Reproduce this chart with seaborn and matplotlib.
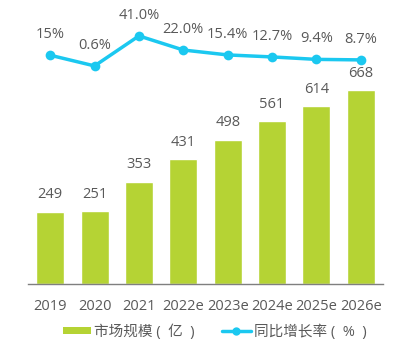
import matplotlib
matplotlib.use("Agg")
import matplotlib.pyplot as plt
import seaborn as sns
import pandas as pd
from matplotlib.lines import Line2D
from matplotlib.patches import Patch

categories = ["2019", "2020", "2021", "2022e", "2023e", "2024e", "2025e", "2026e"]
market_size = [249, 251, 353, 431, 498, 561, 614, 668]
growth_rate = [15.0, 0.6, 41.0, 22.0, 15.4, 12.7, 9.4, 8.7]
growth_labels = ["15%", "0.6%", "41.0%", "22.0%", "15.4%", "12.7%", "9.4%", "8.7%"]

sns.set_theme(style="white")
plt.rcParams['font.family'] = ['Open Sans', 'Noto Sans CJK SC', 'DejaVu Sans']

bar_color = "#B5D334"
line_color = "#1BC8F0"
text_color = "#595959"

df = pd.DataFrame({"year": categories, "size": market_size, "rate": growth_rate})

W, H = 403, 350
fig = plt.figure(figsize=(W / 100, H / 100), dpi=100)
ax_left, ax_right = 28 / W, 383 / W
ax_bottom = (H - 284) / H
ax_top = (H - 20) / H
ax = fig.add_axes([ax_left, ax_bottom, ax_right - ax_left, ax_top - ax_bottom])

sns.barplot(data=df, x="year", y="size", color=bar_color, width=0.63, ax=ax,
            saturation=1)
ax.set_ylim(0, 910)
ax.set_xlim(-0.5, 7.5)
for i, v in enumerate(market_size):
    ax.text(i, v + 58, str(v), ha="center", va="center", fontsize=10.5, color=text_color)

ax2 = ax.twinx()
sns.lineplot(x=list(range(len(categories))), y=growth_rate, ax=ax2, color=line_color,
             linewidth=2.5, marker="o", markersize=7, markeredgewidth=0)
ax2.set_ylim(-292.9, 62.4)
for i, (v, lab) in enumerate(zip(growth_rate, growth_labels)):
    ax2.text(i, v + 28, lab, ha="center", va="center", fontsize=10.5, color=text_color)

for a in (ax, ax2):
    for s in ["top", "right", "left"]:
        a.spines[s].set_visible(False)
    a.set_yticks([])
    a.set_ylabel("")
ax2.spines["bottom"].set_visible(False)
ax.spines["bottom"].set_color("#7F7F7F")
ax.spines["bottom"].set_linewidth(1)
ax.set_xlabel("")
ax.tick_params(axis="x", length=0, pad=11, labelsize=10.5, labelcolor=text_color)

handles = [Patch(facecolor=bar_color, edgecolor="none"),
           Line2D([0], [0], color=line_color, lw=2.5, marker="o", markersize=6, markeredgewidth=0)]
labels = ["市场规模 (  亿  )", "同比增长率 (  %  )"]
fig.legend(handles, labels, loc="center", bbox_to_anchor=(0.532, (H - 332) / H), ncol=2,
           frameon=False, fontsize=10.5, labelcolor=text_color, handlelength=1.95,
           handleheight=0.36, columnspacing=1.9, handletextpad=0.2)

fig.savefig("out.png", dpi=100)
